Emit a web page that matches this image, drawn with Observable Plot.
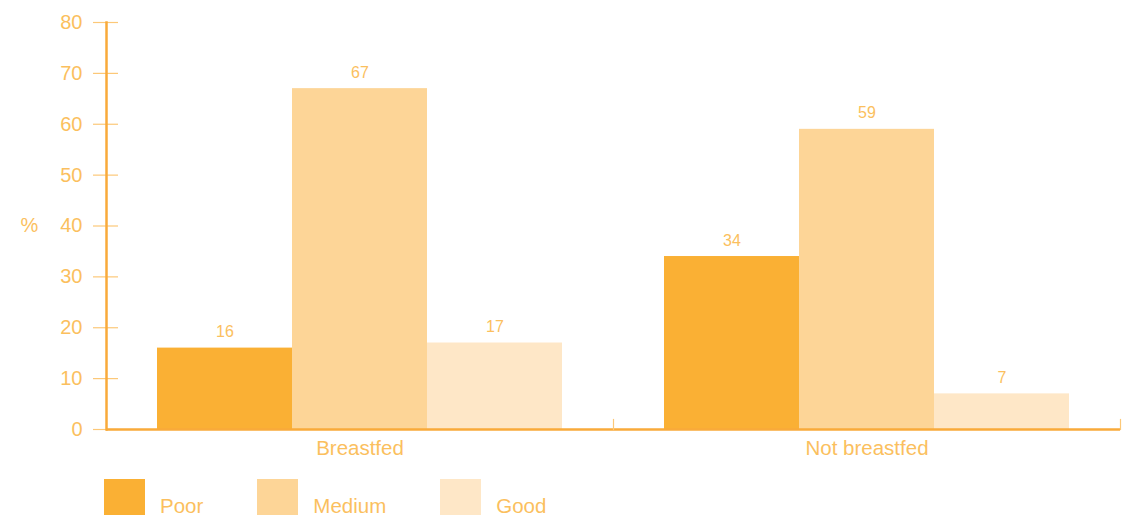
<!DOCTYPE html>
<html>
<head>
<meta charset="utf-8">
<script src="https://cdn.jsdelivr.net/npm/d3@7"></script>
<script src="https://cdn.jsdelivr.net/npm/@observablehq/plot@0.6"></script>
<style>
  body { margin: 0; background: #fff; font-family: "Liberation Sans", Arial, sans-serif; }
  #legend { display: flex; padding-left: 104px; margin-top: 9px; height: 45px; overflow: hidden; }
  .item { display: flex; align-items: flex-start; margin-right: 54px; }
  .sw { width: 41px; height: 41px; }
  .lb { margin-left: 15px; font-size: 20.5px; line-height: 41px; padding-top: 6px; color: #FBBF5E; }
</style>
</head>
<body>
<div id="chart"></div>
<div id="legend"></div>
<script>
const groups = ["Breastfed", "Not breastfed"];
const levels = ["Poor", "Medium", "Good"];
const breastfed = [16, 67, 17];
const notBreastfed = [34, 59, 7];
const colors = ["#FAB034", "#FDD597", "#FEE7C7"];
const yTicks = [0, 10, 20, 30, 40, 50, 60, 70, 80];
const yLabel = "%";

const textColor = "#FBBF5E";
const tickColor = "#FCC878";
const axisColor = "#F9AA3A";

const series = [breastfed, notBreastfed];
const data = groups.flatMap((g, i) => levels.map((l, j) => ({group: g, level: l, value: series[i][j]})));

const chart = Plot.plot({
  width: 1122,
  height: 470,
  marginLeft: 106,
  marginRight: 2,
  marginTop: 22,
  marginBottom: 41,
  style: {fontFamily: "Liberation Sans, Arial, sans-serif", background: "#fff"},
  fx: {domain: groups, padding: 0, label: null},
  x: {domain: levels, paddingInner: 0, paddingOuter: 0.374, axis: null},
  y: {domain: [0, 80], axis: null},
  color: {domain: levels, range: colors},
  marks: [
    Plot.barY(data, {fx: "group", x: "level", y: "value", fill: "level"}),
    Plot.axisY({ticks: yTicks, tickSize: 25, dx: 12, tickFormat: () => "", stroke: tickColor, strokeWidth: 1.2, label: null}),
    Plot.axisY({ticks: yTicks, tickSize: 0, tickPadding: 24, fontSize: 20, fill: textColor, label: null}),
    Plot.frame({anchor: "left", facetAnchor: "left", stroke: axisColor, strokeWidth: 2.5}),
    Plot.ruleY([0], {stroke: axisColor, strokeWidth: 2.5}),
    Plot.frame({anchor: "right", insetTop: 397, stroke: tickColor, strokeWidth: 1.2}),
    Plot.text(data, {fx: "group", x: "level", y: "value", text: d => String(d.value), dy: -16, fontSize: 16, fill: textColor}),
    Plot.text([yLabel], {frameAnchor: "left", dx: -86, facetAnchor: "left", fontSize: 20, fill: textColor}),
    Plot.axisFx({anchor: "bottom", tickSize: 0, tickPadding: 11, fontSize: 20.5, fill: textColor, label: null})
  ]
});
document.getElementById("chart").appendChild(chart);

const legend = document.getElementById("legend");
levels.forEach((l, i) => {
  const item = document.createElement("div");
  item.className = "item";
  const sw = document.createElement("div");
  sw.className = "sw";
  sw.style.background = colors[i];
  const lb = document.createElement("div");
  lb.className = "lb";
  lb.textContent = l;
  item.appendChild(sw);
  item.appendChild(lb);
  legend.appendChild(item);
});
</script>
</body>
</html>
